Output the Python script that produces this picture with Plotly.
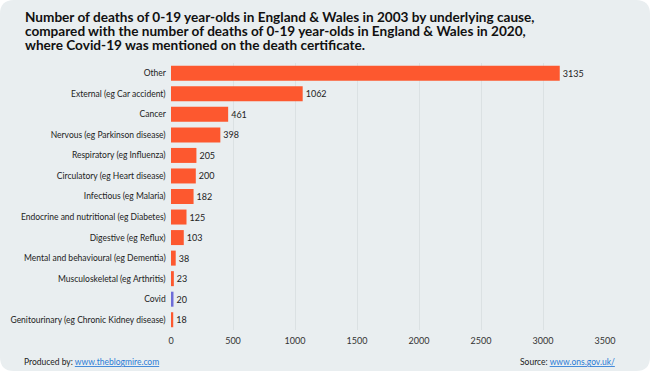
import plotly.graph_objects as go

categories = [
    "Other", "External (eg Car accident)", "Cancer", "Nervous (eg Parkinson disease)",
    "Respiratory (eg Influenza)", "Circulatory (eg Heart disease)", "Infectious (eg Malaria)",
    "Endocrine and nutritional (eg Diabetes)", "Digestive (eg Reflux)",
    "Mental and behavioural (eg Dementia)", "Musculoskeletal (eg Arthritis)", "Covid",
    "Genitourinary (eg Chronic Kidney disease)",
]
deaths = [3135, 1062, 461, 398, 205, 200, 182, 125, 103, 38, 23, 20, 18]
tick_values = [0, 500, 1000, 1500, 2000, 2500, 3000, 3500]
title_lines = [
    "Number of deaths of 0-19 year-olds in England &amp; Wales in 2003 by underlying cause,",
    "compared with the number of deaths of 0-19 year-olds in England &amp; Wales in 2020,",
    "where Covid-19 was mentioned on the death certificate.",
]

ORANGE = "#fd582f"
PURPLE = "#6e6cd8"
colors = [PURPLE if c == "Covid" else ORANGE for c in categories]

W, H = 650, 371
ML, MR, MT, MB = 171, 45, 63, 41
PW, PH = W - ML - MR, H - MT - MB

def px(x):
    return (x - ML) / PW

def py(y):
    return (H - MB - y) / PH

fig = go.Figure(go.Bar(
    y=categories, x=deaths, orientation="h",
    marker=dict(color=colors, line=dict(width=0)),
    text=[str(v) for v in deaths], textposition="outside",
    textfont=dict(size=9, color="#222222", family="Lato"),
    cliponaxis=False,
))

# rounded background card
r = 14
x0, x1, y0, y1 = 0, 650, 0, 371
path = (
    f"M {px(x0 + r)},{py(y0)} L {px(x1 - r)},{py(y0)} Q {px(x1)},{py(y0)} {px(x1)},{py(y0 + r)} "
    f"L {px(x1)},{py(y1 - r)} Q {px(x1)},{py(y1)} {px(x1 - r)},{py(y1)} "
    f"L {px(x0 + r)},{py(y1)} Q {px(x0)},{py(y1)} {px(x0)},{py(y1 - r)} "
    f"L {px(x0)},{py(y0 + r)} Q {px(x0)},{py(y0)} {px(x0 + r)},{py(y0)} Z"
)
fig.add_shape(type="path", path=path, xref="paper", yref="paper",
              fillcolor="#e9eef0", line=dict(width=0), layer="below")

annotations = []
for i, line in enumerate(title_lines):
    annotations.append(dict(
        text=f"<b>{line}</b>", x=px(23), y=py(17 + 14 * i), xref="paper", yref="paper",
        xanchor="left", yanchor="middle", align="left", showarrow=False,
        font=dict(size=13.6, color="#111111", family="Lato")))
annotations += [
    dict(text="Produced by: <span style='color:#2a7bd6'><u>www.theblogmire.com</u></span>",
         x=px(22), y=py(362), xref="paper", yref="paper", xanchor="left", yanchor="middle",
         showarrow=False, font=dict(size=8.5, color="#222222")),
    dict(text="Source: <span style='color:#2a7bd6'><u>www.ons.gov.uk/</u></span>",
         x=px(617), y=py(362), xref="paper", yref="paper", xanchor="right", yanchor="middle",
         showarrow=False, font=dict(size=8.5, color="#222222")),
]

fig.update_layout(
    width=W, height=H,
    margin=dict(l=ML, r=MR, t=MT, b=MB, autoexpand=False),
    paper_bgcolor="white", plot_bgcolor="rgba(0,0,0,0)",
    bargap=0.27,
    showlegend=False,
    font=dict(family="Lato", color="#222222"),
    xaxis=dict(
        range=[0, 3500], tickvals=tick_values, showgrid=True, gridcolor="#dbe1e3",
        gridwidth=1, zeroline=False, showline=False, ticks="", ticklabelstandoff=4,
        tickfont=dict(size=9, color="#333333"), automargin=False,
    ),
    yaxis=dict(
        categoryorder="array", categoryarray=categories[::-1], autorange=True,
        showgrid=False, zeroline=False, ticks="", ticksuffix="  ",
        tickfont=dict(size=8.5, color="#222222"), automargin=False,
    ),
    annotations=annotations,
)

fig.write_html("out.html", config={"displayModeBar": False},
               post_script="document.body.style.margin='0';document.body.style.padding='0';")
